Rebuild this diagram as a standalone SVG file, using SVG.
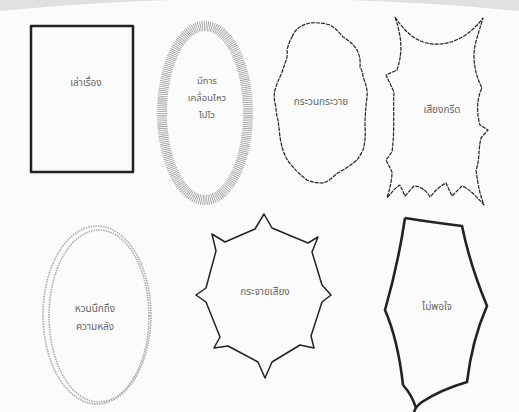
<svg xmlns="http://www.w3.org/2000/svg" width="519" height="412" viewBox="0 0 519 412">
<style>
.t{font-family:"Noto Sans Thai","Noto Sans","DejaVu Sans",sans-serif;font-size:10px;fill:#666;text-anchor:middle}
.blk{fill:none;stroke:#222;stroke-linejoin:round}
</style>
<rect x="0" y="0" width="519" height="412" fill="#fbfbfb"/>
<path d="M0,0 H519 V11 Q260,-14 0,11 Z" fill="#e0e0e0"/>
<g id="n1">
<rect x="31" y="26" width="102" height="146" class="blk" stroke-width="2.5"/>
<text class="t" x="86" y="86">เล่าเรื่อง</text>
</g>
<g id="n2">
<ellipse cx="205" cy="113" rx="43" ry="87" fill="none" stroke="#9a9a9a" stroke-width="10" stroke-dasharray="0.8 1.1"/>
<text class="t" x="207" y="84" style="font-size:9.5px">มีการ</text>
<text class="t" x="207" y="101" style="font-size:9.5px">เคลื่อนไหว</text>
<text class="t" x="207" y="118" style="font-size:9.5px">ไปไว</text>
</g>
<g id="n3">
<path class="blk" stroke-width="1.2" stroke-dasharray="4 1" d="M292,37 Q296,26 310,23 Q320,22 330,25 Q338,30 343,37 Q352,42 357,50 Q361,58 360,67 Q363,72 363,77 Q368,88 367,97 Q365,112 365,127 Q366,140 363,150 Q360,156 357,160 Q350,166 343,170 Q337,173 333,177 Q328,182 322,183 Q314,183 307,180 Q299,174 293,167 Q286,160 283,150 Q281,144 280,137 Q279,128 278,120 Q276,114 276,107 Q273,98 275,90 Q277,83 280,77 Q283,70 285,63 Q288,57 287,50 Q289,42 292,37 Z"/>
<text class="t" x="321" y="105">กระวนกระวาย</text>
</g>
<g id="n4">
<path class="blk" stroke-width="1.2" stroke-dasharray="4 1" d="M395,17 C410,40 425,45 440,44 C455,43 470,35 483,18 C478,35 474,45 474,55 C474,70 478,80 482,88 C476,100 477,115 480,125 L488,130 L481,138 C478,150 480,160 476,170 C478,185 480,195 484,205 C475,195 468,188 462,186 L452,196 L446,183 C440,186 436,190 430,197 C426,190 420,186 414,186 L405,196 L400,185 C395,188 392,192 387,198 C390,188 392,180 392,172 L386,160 L392,152 C395,130 393,110 394,92 L386,75 L397,70 C402,55 403,40 395,17 Z"/>
<text class="t" x="442" y="113">เสียงกรีด</text>
</g>
<g id="n5">
<ellipse cx="97" cy="315" rx="54" ry="89" fill="none" stroke="#aaa" stroke-width="1.6" stroke-dasharray="1.5 1"/>
<ellipse cx="99" cy="316" rx="50" ry="86" fill="none" stroke="#aaa" stroke-width="1.6" stroke-dasharray="1.5 1"/>
<text class="t" x="95" y="312">หวนนึกถึง</text>
<text class="t" x="95" y="330">ความหลัง</text>
</g>
<g id="n6">
<path class="blk" stroke-width="1.5" d="M255,229 L264,214 L272,228 L308,243 L318,237 L312,252 L322,285 L331,295 L322,302 L311,336 L314,348 L300,345 L272,362 L265,378 L258,362 L228,346 L214,348 L220,337 L206,302 L196,295 L206,288 L216,251 L212,234 L225,242 Z"/>
<text class="t" x="265" y="295">กระจายเสียง</text>
</g>
<g id="n7">
<path class="blk" stroke-width="2.6" d="M405,218 Q430,222 462,226 Q470,265 487,306 Q472,340 467,382 Q440,390 422,402 Q416,406 414,412 M403,385 Q398,340 385,310 Q398,265 405,218 M403,385 Q412,395 416,408"/>
<text class="t" x="437" y="310">ไม่พอใจ</text>
</g>
</svg>
